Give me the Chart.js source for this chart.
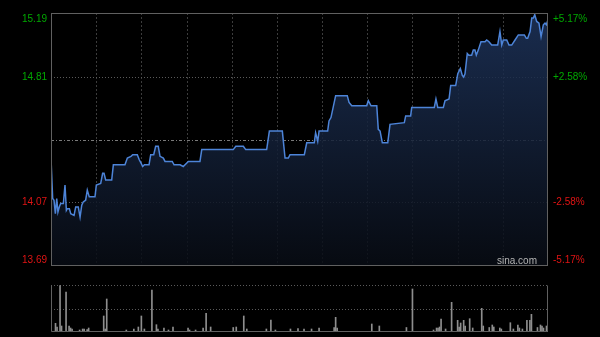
<!DOCTYPE html>
<html><head><meta charset="utf-8">
<script src="https://cdn.jsdelivr.net/npm/chart.js@4.4.0/dist/chart.umd.min.js"></script>
<style>
html,body{margin:0;padding:0;background:#000;width:600px;height:337px;overflow:hidden}
#c1{position:absolute;left:0;top:0}
#c2{position:absolute;left:0;top:275px}
</style></head><body>
<canvas id="c1" width="600" height="275"></canvas>
<canvas id="c2" width="600" height="62"></canvas>
<script>
// ---- data ----
const prevClose = 14.44;
const priceTicks = [13.69, 14.07, 14.44, 14.81, 15.19];
const pctTicks = ['-5.17%', '-2.58%', '', '+2.58%', '+5.17%'];
const sessionMinutes = 330;

const minutes = [0,1.1,2.0,2.9,3.8,4.6,5.5,6.4,8.2,9.3,10.2,10.8,12.2,13.1,15.3,16.4,18.1,19.3,20.4,21.4,23.0,24.1,25.4,29.2,30.1,33.0,34.3,35.2,36.3,40.3,41.4,49.1,50.7,53.1,54.3,57.3,58.6,59.8,60.9,62.0,65.1,66.2,68.2,69.5,71.2,72.4,74.6,75.7,80.5,81.7,85.7,87.8,91.2,98.9,100.1,121.0,122.7,127.7,129.3,143.2,145.0,153.6,155.4,157.6,158.7,168.2,169.8,174.8,175.7,177.1,178.0,183.7,184.6,185.9,189.0,196.7,197.9,199.7,209.6,210.7,212.5,216.3,217.3,218.5,220.0,223.6,225.1,234.6,235.5,238.8,239.5,254.5,255.6,256.8,260.5,261.6,264.3,265.4,268.7,270.1,271.8,273.1,274.0,274.9,276.4,277.4,279.3,280.4,281.5,282.4,283.7,285.5,288.2,289.3,290.8,292.6,296.6,298.1,299.3,300.3,302.6,304.1,305.9,308.1,310.3,314.3,315.6,316.5,318.1,319.2,320.3,321.2,322.5,324.0,325.4,326.9,328.0,328.9,330];
const prices = [14.33,14.09,14.08,14.00,14.09,14.01,14.04,14.06,14.06,14.17,14.02,14.03,14.03,14.00,13.99,14.04,14.04,13.98,14.05,14.07,14.08,14.14,14.10,14.10,14.17,14.18,14.24,14.24,14.20,14.20,14.29,14.29,14.33,14.34,14.35,14.35,14.32,14.30,14.28,14.29,14.29,14.35,14.35,14.40,14.40,14.34,14.33,14.31,14.31,14.29,14.29,14.28,14.31,14.31,14.38,14.38,14.40,14.40,14.38,14.38,14.49,14.49,14.33,14.33,14.35,14.35,14.42,14.42,14.48,14.43,14.49,14.49,14.55,14.57,14.70,14.70,14.66,14.64,14.64,14.67,14.64,14.64,14.50,14.49,14.42,14.42,14.53,14.54,14.58,14.58,14.63,14.63,14.68,14.63,14.63,14.67,14.68,14.76,14.76,14.83,14.86,14.82,14.81,14.83,14.95,14.94,14.94,14.97,14.97,14.94,14.97,15.02,15.02,15.03,15.02,15.00,15.00,15.08,15.00,15.03,15.03,15.00,15.00,15.03,15.06,15.06,15.04,15.04,15.08,15.16,15.16,15.18,15.14,15.13,15.05,15.12,15.13,15.12,15.15];

const volMinutes = [3,4,6,7,10,12,13,14,19,21,22,24,25,35,36,37,50,55,58,60,62,67,70,71,75,78,81,91,92,96,101,103,106,121,123,128,130,143,146,149,159,164,168,173,178,188,189,190,213,218,236,240,254,256,257,258,259,262,266,270,271,272,274,275,278,280,286,287,291,293,294,298,299,305,307,310,311,313,316,318,319,323,325,326,327,329,330];
const volumes = [87,50,465,60,400,60,40,30,20,30,30,25,40,160,30,330,20,30,50,160,30,420,73,30,40,20,50,40,20,20,40,187,50,45,50,160,30,30,120,20,30,35,30,30,40,45,147,40,80,60,45,430,20,40,40,50,130,30,297,117,50,90,117,60,133,40,237,60,45,70,50,40,30,93,30,70,40,30,117,117,177,45,70,60,40,60,60];
const volMax = 470;

// ---- chart 1: price ----
const FONT = '10px "Liberation Sans", Arial, sans-serif';
const GREEN = '#00a800', RED = '#e01414';

const priceDecor = {
  id: 'priceDecor',
  beforeDatasetsDraw(chart) {
    const {ctx, chartArea: a, scales: {x, y}} = chart;
    ctx.save();
    ctx.lineWidth = 1;
    // vertical grid every 30 minutes
    ctx.strokeStyle = '#3c3c3c';
    ctx.setLineDash([2, 2]);
    for (let t = 30; t < sessionMinutes; t += 30) {
      const px = Math.round(x.getPixelForValue(t)) + 0.5;
      ctx.beginPath(); ctx.moveTo(px, a.top); ctx.lineTo(px, a.bottom); ctx.stroke();
    }
    // horizontal grid
    priceTicks.forEach(v => {
      if (v === priceTicks[0] || v === priceTicks[priceTicks.length - 1]) return;
      const py = Math.round(y.getPixelForValue(v)) + 0.5;
      if (v === prevClose) { ctx.strokeStyle = '#7a7a7a'; ctx.setLineDash([3, 2, 1, 2]); }
      else { ctx.strokeStyle = '#5a5a5a'; ctx.setLineDash([1, 2]); }
      ctx.beginPath(); ctx.moveTo(a.left, py); ctx.lineTo(a.right, py); ctx.stroke();
    });
    ctx.restore();
  },
  afterDraw(chart) {
    const {ctx, chartArea: a, scales: {y}} = chart;
    ctx.save();
    ctx.strokeStyle = '#606060';
    ctx.lineWidth = 1;
    ctx.setLineDash([]);
    ctx.strokeRect(Math.round(a.left) + 0.5, Math.round(a.top) + 0.5,
                   Math.round(a.right - a.left) - 1, Math.round(a.bottom - a.top) - 1);
    ctx.font = FONT;
    ctx.textBaseline = 'middle';
    priceTicks.forEach((v, i) => {
      if (v === prevClose) return;
      let py = y.getPixelForValue(v);
      if (i === priceTicks.length - 1) py += 6;
      if (i === 0) py -= 6;
      ctx.fillStyle = v > prevClose ? GREEN : RED;
      ctx.textAlign = 'right';
      ctx.fillText(v.toFixed(2), a.left - 4, py);
      ctx.textAlign = 'left';
      ctx.fillText(pctTicks[i], a.right + 5, py);
    });
    ctx.fillStyle = '#b4b4b4';
    ctx.textAlign = 'right';
    ctx.fillText('sina.com', a.right - 11, a.bottom - 5);
    ctx.restore();
  }
};

new Chart(document.getElementById('c1'), {
  type: 'line',
  data: {
    datasets: [{
      data: minutes.map((m, i) => ({x: m, y: prices[i]})),
      borderColor: '#4d84d8',
      borderWidth: 1.5,
      pointRadius: 0,
      tension: 0,
      fill: 'start',
      backgroundColor(ctx) {
        const a = ctx.chart.chartArea;
        if (!a) return 'rgba(20,35,60,0.8)';
        const g = ctx.chart.ctx.createLinearGradient(0, a.top, 0, a.bottom);
        g.addColorStop(0, 'rgba(30,52,92,0.85)');
        g.addColorStop(1, 'rgba(8,12,20,0.85)');
        return g;
      }
    }]
  },
  options: {
    responsive: false,
    animation: false,
    events: [],
    layout: {padding: {left: 51, right: 52, top: 13, bottom: 9}},
    plugins: {legend: {display: false}, tooltip: {enabled: false}},
    scales: {
      x: {type: 'linear', min: 0, max: sessionMinutes, display: false},
      y: {type: 'linear', min: priceTicks[0], max: priceTicks[priceTicks.length - 1], display: false}
    }
  },
  plugins: [priceDecor]
});

// ---- chart 2: volume ----
const volDecor = {
  id: 'volDecor',
  beforeDatasetsDraw(chart) {
    const {ctx, chartArea: a, scales: {y}} = chart;
    ctx.save();
    ctx.lineWidth = 1;
    ctx.strokeStyle = '#5a5a5a';
    ctx.setLineDash([1, 2]);
    [volMax / 2, volMax].forEach(v => {
      const py = Math.round(y.getPixelForValue(v)) + 0.5;
      ctx.beginPath(); ctx.moveTo(a.left, py); ctx.lineTo(a.right, py); ctx.stroke();
    });
    ctx.restore();
  },
  afterDraw(chart) {
    const {ctx, chartArea: a} = chart;
    ctx.save();
    ctx.strokeStyle = '#606060';
    ctx.lineWidth = 1;
    ctx.beginPath();
    const l = Math.round(a.left) + 0.5, r = Math.round(a.right) - 0.5;
    const t = Math.round(a.top) + 0.5, b = Math.round(a.bottom) - 0.5;
    ctx.moveTo(l, t); ctx.lineTo(l, b); ctx.lineTo(r, b); ctx.lineTo(r, t);
    ctx.stroke();
    ctx.restore();
  }
};

new Chart(document.getElementById('c2'), {
  type: 'bar',
  data: {
    datasets: [{
      data: volMinutes.map((m, i) => ({x: m, y: volumes[i]})),
      backgroundColor: '#8e8e8e',
      barThickness: 1,
      borderWidth: 0
    }]
  },
  options: {
    responsive: false,
    animation: false,
    events: [],
    layout: {padding: {left: 51, right: 52, top: 10, bottom: 5}},
    plugins: {legend: {display: false}, tooltip: {enabled: false}},
    scales: {
      x: {type: 'linear', min: 0, max: sessionMinutes, display: false, offset: false},
      y: {min: 0, max: volMax, display: false}
    }
  },
  plugins: [volDecor]
});
</script>
</body></html>
